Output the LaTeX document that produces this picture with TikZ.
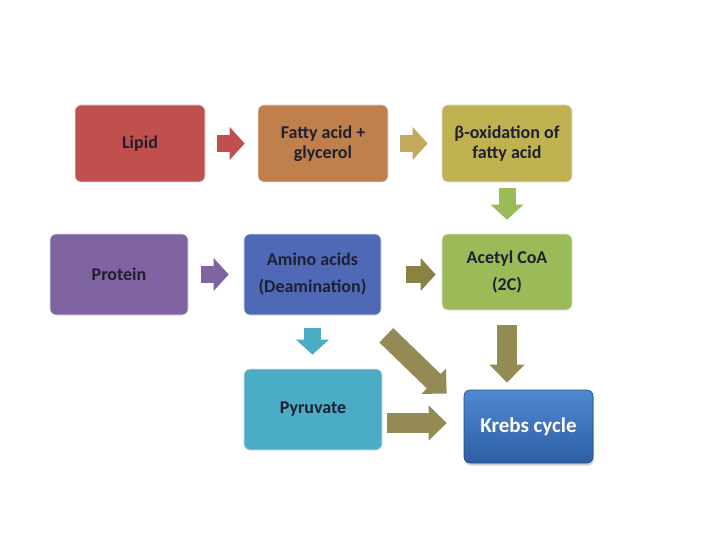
\documentclass[tikz,border=0pt]{standalone}
\usepackage{fontspec}
\setmainfont{Carlito}
\usepackage{xcolor}
\usetikzlibrary{arrows.meta, calc, shadows}

\definecolor{lipidred}{HTML}{C0504D}
\definecolor{fattybrown}{HTML}{C0804E}
\definecolor{betaolive}{HTML}{C0B250}
\definecolor{fattyarrow}{HTML}{C6A75C}
\definecolor{acetylgreen}{HTML}{9BBB59}
\definecolor{protpurple}{HTML}{8064A2}
\definecolor{aminoblue}{HTML}{4F69B7}
\definecolor{olivearrow}{HTML}{8A8242}
\definecolor{pyrcyan}{HTML}{4BACC6}
\definecolor{bigolive}{HTML}{948A54}
\definecolor{krebstop}{HTML}{5089D0}
\definecolor{krebsbot}{HTML}{2B5EA5}
\definecolor{boxtext}{HTML}{1F1F30}

\begin{document}
\begin{tikzpicture}[x=1pt, y=-1pt,
    box/.style={rounded corners=6pt, draw=black!12, line width=0.6pt,
      inner sep=0pt, minimum width=130pt, minimum height=77pt, align=center,
      text=boxtext, font=\fontsize{18}{20}\selectfont\bfseries},
    blk/.style={line width=17pt, -{Triangle[length=15pt,width=32pt]}},
    bigblk/.style={line width=20pt, -{Triangle[length=18pt,width=34pt]}, bigolive}
  ]
  \fill[white] (0,0) rectangle (720,540);
  \useasboundingbox (0,0) rectangle (720,540);

  % lipid row
  \node[box, fill=lipidred] (lipid) at (140,143.5) {Lipid};
  \node[box, fill=fattybrown] (fatty) at (323,143.5) {Fatty acid +\\glycerol};
  \node[box, fill=betaolive] (beta) at (507,143.5) {β-oxidation of\\fatty acid};

  % protein row
  \node[box, fill=protpurple, minimum width=138pt, minimum height=81pt] (protein) at (119,274.5) {Protein};
  \node[box, fill=aminoblue, minimum width=137pt, minimum height=81pt] (amino) at (312.5,274.5) {Amino acids\\[7pt](Deamination)};
  \node[box, fill=acetylgreen, minimum height=76pt] (acetyl) at (507,272) {Acetyl CoA\\[7pt](2C)};

  \node[box, fill=pyrcyan, minimum width=138pt, minimum height=81pt] (pyruvate) at (313,409.5) {Pyruvate};
  \node[box, top color=krebstop, bottom color=krebsbot, draw=krebsbot!80!black,
    minimum width=129pt, minimum height=73pt, text=white, font=\fontsize{21}{24}\selectfont\bfseries,
    drop shadow={shadow xshift=1pt, shadow yshift=-2.5pt, opacity=0.35}] (krebs) at (528.5,426.5) {Krebs cycle};

  \draw[blk, lipidred, shorten <=12pt, shorten >=13pt] (lipid) -- (fatty);
  \draw[blk, fattyarrow, shorten <=12pt, shorten >=14pt] (fatty) -- (beta);
  \draw[blk, acetylgreen, shorten <=6pt, shorten >=14pt] (beta) -- (acetyl);
  \draw[blk, protpurple, shorten <=13pt, shorten >=15pt] (protein) -- (amino);
  \draw[blk, olivearrow, shorten <=25pt, shorten >=6pt] (amino.east) -- (amino.east -| acetyl.west);
  \draw[blk, pyrcyan, shorten <=13pt, shorten >=14pt] (amino.south) -- (amino.south |- pyruvate.north);

  % into the cycle
  \draw[bigblk] ([shift={(5,20)}]amino.south east) -- ([shift={(-17,4)}]krebs.north west);
  \draw[bigblk] ([shift={(5,13.5)}]pyruvate.east) -- ([shift={(-17,-3.5)}]krebs.west);
  \draw[bigblk, shorten <=15pt, shorten >=7pt] (acetyl.south) -- (acetyl.south |- krebs.north);
\end{tikzpicture}
\end{document}
